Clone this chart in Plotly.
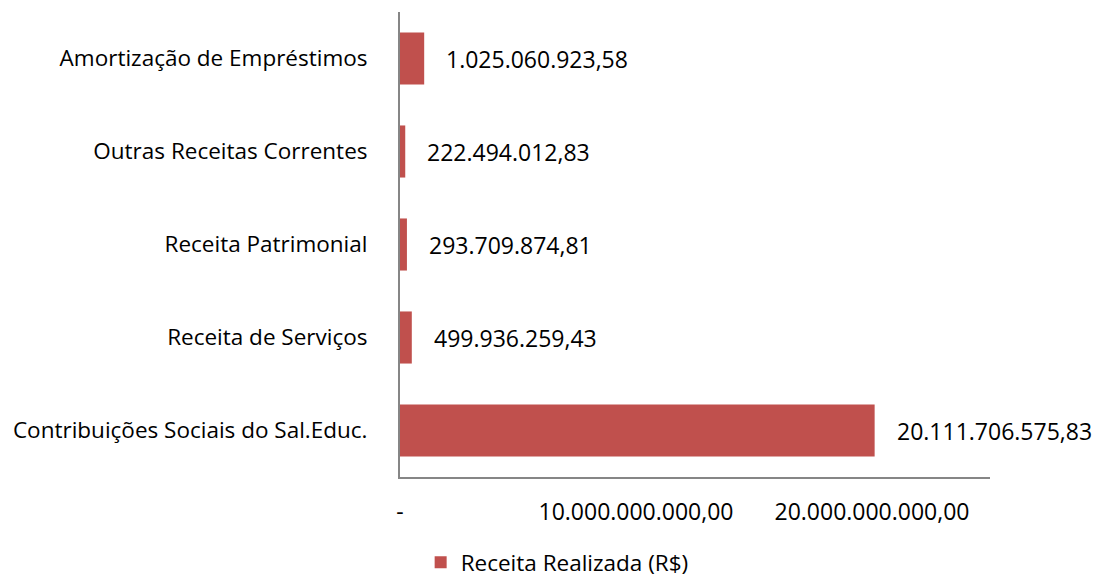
import plotly.graph_objects as go

categories = [
    "Amortização de Empréstimos",
    "Outras Receitas Correntes",
    "Receita Patrimonial",
    "Receita de Serviços",
    "Contribuições Sociais do Sal.Educ.",
]
values = [
    1025060923.58,
    222494012.83,
    293709874.81,
    499936259.43,
    20111706575.83,
]
tick_vals = [0, 10e9, 20e9]
tick_text = ["-", "10.000.000.000,00", "20.000.000.000,00"]
series_name = "Receita Realizada (R$)"


def br(v):
    s = f"{v:,.2f}"
    return s.replace(",", "X").replace(".", ",").replace("X", ".")


FONT = "Open Sans, sans-serif"
FS = 23
RED = "#C0504D"
AX = "#868686"

fig = go.Figure()
fig.add_trace(go.Bar(
    y=categories, x=values, orientation="h",
    marker=dict(color=RED, line=dict(width=0)),
    width=0.56, name=series_name, showlegend=True,
))
for c, v in zip(categories, values):
    fig.add_annotation(x=v, y=c, text=br(v), showarrow=False,
                       xanchor="left", xshift=20,
                       font=dict(family=FONT, size=FS, color="#000"))

fig.update_layout(
    width=1100, height=578,
    margin=dict(l=392, r=118, t=4, b=109, autoexpand=False),
    paper_bgcolor="white", plot_bgcolor="white",
    font=dict(family=FONT, size=FS, color="#000"),
    showlegend=True,
    legend=dict(orientation="h", x=0.035, xanchor="left", y=-0.184, yanchor="middle",
                font=dict(family=FONT, size=22.5, color="#000"), itemwidth=30),
    xaxis=dict(range=[0, 25e9], tickvals=tick_vals, ticktext=tick_text, automargin=False,
               showgrid=False, zeroline=False, showline=True, linecolor=AX, linewidth=2,
               ticks="", ticklabelstandoff=13, fixedrange=True),
    yaxis=dict(autorange="reversed", showgrid=False, zeroline=False, automargin=False,
               showline=True, linecolor=AX, linewidth=2, ticks="",
               tickfont=dict(family=FONT, size=22.5, color="#000"),
               ticklabelstandoff=26, fixedrange=True),
)

fig.write_html("out.html")
